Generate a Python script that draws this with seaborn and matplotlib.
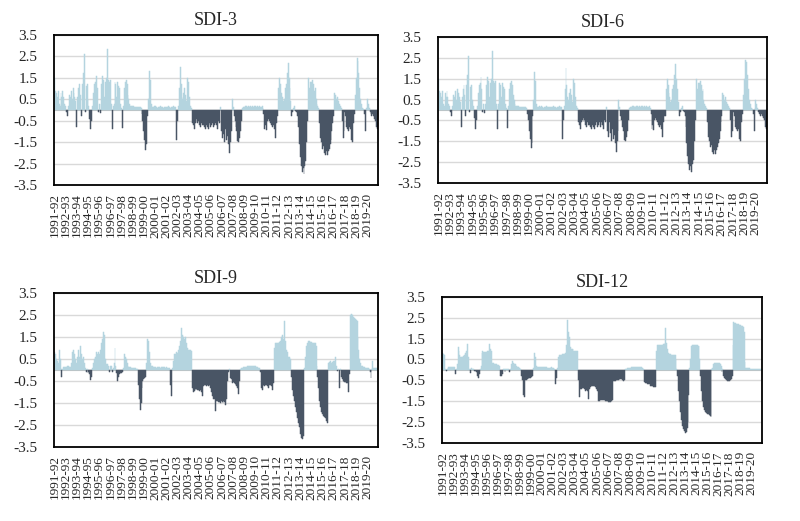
import matplotlib
matplotlib.use("Agg")
import matplotlib.pyplot as plt
import seaborn as sns
import numpy as np
import pandas as pd

# water years shown on the x axis (one label per 12 months)
years = [f"{y}-{str(y + 1)[-2:]}" for y in range(1991, 2020)]

# monthly SDI values, one row per water year (Oct..Sep)
sdi_3 = [
    1.5, 0.9, 0.8, 0.6, 0.9, 0.3, 0.2, 0.8, 0.6, 0.9, 0.6, 0.3,
    0.2, -0.1, -0.3, 0.2, 0.7, 0.6, 0.9, 0.5, 1.0, 0.8, 0.6, 0.4,
    -0.8, 0.6, 1.0, 1.2, 0.7, -0.3, 1.2, 1.7, 2.6, -0.1, 1.1, 1.2,
    0.5, 0.2, -0.4, -0.9, -0.5, 0.2, 0.8, 1.2, 1.3, 1.6, 1.0, -0.1,
    0.3, -0.15, 0.3, 1.2, 1.6, 1.4, 0.6, 1.3, 1.5, 2.85, 1.4, 1.3,
    1.4, 0.3, -0.9, 0.2, 0.3, 1.3, 1.2, 0.6, 1.3, 1.1, 1.0, 0.3,
    0.1, -0.85, 0.2, 1.0, 1.3, 1.4, 1.2, 0.7, 0.5, 0.3, 0.2, 0.2,
    0.2, 0.2, 0.15, 0.15, 0.15, 0.15, 0.15, 0.15, 0.15, 0.1, -0.2, -0.5,
    -1.0, -1.4, -1.85, -1.6, -0.3, 0.5, 1.8, 1.4, 0.3, 0.15, 0.15, 0.2,
    0.15, 0.2, 0.15, 0.1, 0.15, 0.15, 0.2, 0.15, 0.15, 0.1, 0.15, 0.15,
    0.15, 0.15, 0.2, 0.15, 0.15, 0.1, 0.15, 0.15, 0.2, 0.15, 0.15, -1.4,
    -0.5, 0.2, 1.0, 2.0, 1.2, 0.6, 0.5, 0.8, 1.0, 0.7, 0.4, 1.5,
    1.3, 0.6, 0.2, 0.1, -0.6, -0.7, -0.9, -0.6, -0.5, -0.4, -0.6, -0.5,
    -0.7, -0.8, -0.6, -0.7, -0.7, -0.8, -0.9, -0.7, -0.8, -0.9, -0.7, -0.6,
    -0.8, -0.7, -0.6, -0.8, -0.7, -0.6, -0.7, -0.9, -0.5, -0.6, 0.15, -1.0,
    -1.3, -0.6, -1.1, -1.5, -0.9, -1.4, -1.2, -1.6, -2.0, -1.5, -1.0, 0.5,
    0.15, -0.3, -0.5, -0.8, -1.0, -1.45, -1.5, -1.3, -1.0, -0.5, 0.1, 0.15,
    0.15, 0.2, 0.2, 0.15, 0.2, 0.15, 0.2, 0.2, 0.15, 0.2, 0.15, 0.2,
    0.2, 0.15, 0.2, 0.15, 0.2, 0.15, 0.15, 0.2, 0.1, -0.2, -0.9, -0.7,
    -0.95, -0.5, -0.4, -0.5, -0.6, -0.7, -0.8, -0.7, -0.9, -1.3, -0.6, -0.3,
    -0.3, 1.0, 1.5, 1.2, 0.8, 0.6, 0.4, 0.5, 1.0, 1.2, 1.7, 2.2,
    1.5, 1.0, 0.4, -0.3, -0.1, 0.1, 0.2, -0.05, -0.1, -0.3, -0.8, -1.6,
    -2.2, -2.6, -2.9, -2.7, -3.0, -2.6, -2.4, -1.5, -0.5, 1.5, 1.0, 1.3,
    1.3, 1.4, 1.2, 0.9, 1.0, 0.5, 0.3, 0.2, 0.1, -0.6, -1.3, -1.5,
    -1.8, -1.7, -2.0, -2.1, -1.9, -2.1, -1.9, -1.8, -1.6, -1.4, -1.0, -0.6,
    -0.3, 0.8, 0.7, 0.5, 0.6, 0.4, 0.3, 0.2, 0.1, -0.5, -1.3, -1.0,
    -0.1, -0.3, -0.8, -0.9, -1.0, -0.8, -0.9, -1.4, -1.5, -0.6, -0.2, 0.7,
    1.5, 2.4, 2.3, 1.7, 1.0, 0.5, 0.3, 0.1, 0.05, -0.2, -1.0, 0.1,
    0.5, 0.3, 0.1, -0.1, -0.2, -0.3, -0.2, -0.3, -0.4, -0.5, -0.8, -0.9,
]

# the SDI-6 panel reads the same as SDI-3 in the figure
sdi_6 = list(sdi_3)

sdi_9 = [
    0.8, 0.7, 0.5, 0.4, 0.3, 0.9, 0.5, 0.1, -0.3, 0.05, 0.15, 0.15,
    0.15, 0.15, 0.2, 0.2, 0.15, 0.15, 0.3, 0.8, 0.9, 0.6, 0.7, 0.5,
    0.3, 0.6, 0.9, 0.6, 1.1, 0.7, 0.5, 0.6, 0.3, 0.1, -0.1, 0.05,
    -0.15, -0.1, -0.2, -0.45, -0.3, 0.1, 0.3, 0.5, 0.6, 0.8, 0.7, 0.8,
    0.7, 0.9, 0.8, 1.2, 1.4, 1.7, 1.6, 0.5, 0.25, 0.25, 0.2, -0.1,
    0.2, 0.2, -0.1, 0.1, 0.3, 1.0, 0.2, -0.15, -0.5, -0.3, -0.2, -0.15,
    -0.15, -0.1, 0.1, 0.7, 0.6, 0.5, 0.3, 0.2, 0.15, 0.15, 0.15, 0.1,
    0.1, 0.1, 0.1, 0.1, 0.05, 0.05, -0.7, -1.3, -1.8, -1.5, -0.8, -0.5,
    -0.4, -0.35, -0.3, 0.3, 1.4, 1.3, 0.8, 0.3, 0.2, 0.2, 0.15, 0.15,
    0.15, 0.15, 0.1, 0.15, 0.15, 0.15, 0.1, 0.15, 0.15, 0.15, 0.15, 0.1,
    0.15, 0.1, 0.1, 0.1, 0.1, -0.7, -1.2, 0.1, 0.4, 0.7, 0.7, 0.8,
    0.75, 0.9, 1.1, 1.3, 1.9, 1.3, 1.6, 1.5, 1.4, 1.5, 1.2, 1.0,
    0.9, 0.9, 0.9, 0.85, -0.8, -1.0, -0.95, -0.85, -0.9, -0.85, -0.9, -0.9,
    -0.95, -0.9, -1.0, -1.2, -0.75, -0.7, -0.7, -0.75, -0.7, -0.75, -0.75, -0.7,
    -0.8, -1.0, -1.2, -1.3, -1.3, -1.85, -1.4, -1.4, -1.45, -1.45, -1.5, -1.4,
    -1.45, -1.5, -1.4, -1.45, -1.6, -1.3, -0.5, -0.1, 0.05, -0.35, -0.4, -0.6,
    -0.55, -0.6, -0.65, -0.7, -0.75, -0.8, -1.1, -0.5, 0.05, 0.1, 0.1, 0.15,
    0.15, 0.15, 0.15, 0.2, 0.2, 0.2, 0.2, 0.2, 0.2, 0.2, 0.2, 0.2,
    0.2, 0.15, 0.15, 0.1, 0.1, -0.1, -0.8, -0.9, -0.75, -0.7, -0.75, -0.7,
    -0.7, -0.75, -0.8, -0.7, -0.7, -0.75, -0.9, -0.6, 1.0, 1.2, 1.2, 1.2,
    1.2, 1.2, 1.25, 1.3, 1.5, 1.6, 1.4, 2.2, 1.3, 0.9, 0.8, 0.6,
    0.6, 0.5, 0.5, -0.3, -0.9, -1.2, -1.4, -1.7, -1.9, -2.2, -2.4, -2.6,
    -2.9, -3.1, -3.15, -3.0, 0.05, 0.1, 0.6, 1.1, 1.2, 1.3, 1.3, 1.25,
    1.25, 1.2, 1.2, 1.2, 1.2, 1.1, 0.2, -0.3, -0.8, -1.4, -1.7, -1.9,
    -2.0, -2.1, -2.15, -2.2, -2.3, -2.4, 0.3, 0.35, 0.4, 0.3, 0.3, 0.35,
    0.4, 0.4, 0.6, 0.2, -0.05, 0.05, -0.8, 0.05, -0.3, -0.4, -0.5, -0.55,
    -0.55, -0.55, -0.6, -0.6, -1.0, -0.2, 2.5, 2.55, 2.5, 2.4, 2.35, 2.3,
    2.25, 2.2, 1.5, 0.9, 0.5, 0.3, 0.2, 0.2, 0.15, 0.15, 0.1, 0.1,
    0.1, 0.1, 0.05, -0.1, -0.35, 0.05, 0.4, 0.1, 0.1, 0.1, 0.1, 0.1,
]

sdi_12 = [
    0.8, 0.75, 0.7, 0.05, -0.05, 0.05, 0.1, 0.15, 0.15, 0.15, 0.15, 0.15,
    0.15, 0.15, -0.2, 0.05, 0.3, 1.1, 0.9, 0.7, 0.6, 0.6, 0.6, 0.65,
    0.7, 0.8, 0.9, 1.25, 0.6, 0.05, -0.15, 0.1, 0.1, 0.05, 0.02, -0.05,
    -0.05, -0.1, -0.3, -0.4, -0.2, 0.05, 0.2, 0.8, 0.9, 0.85, 0.85, 0.85,
    0.85, 0.9, 0.9, 1.25, 1.0, 0.9, 0.35, 0.35, 0.35, 0.3, 0.3, 0.3,
    0.25, 0.25, 0.2, -0.3, -0.3, -0.2, 0.05, 0.05, -0.1, 0.05, 0.05, 0.05,
    0.05, -0.1, 0.05, 0.3, 0.45, 0.35, 0.3, 0.3, 0.2, 0.2, 0.15, 0.15,
    0.1, 0.05, -0.3, -0.5, -1.2, -1.3, -0.5, -0.5, -0.45, -0.45, -0.4, -0.4,
    -0.4, -0.35, -0.3, 0.1, 0.8, 0.6, 0.2, 0.15, 0.15, 0.15, 0.15, 0.15,
    0.15, 0.15, 0.15, 0.15, 0.15, 0.15, 0.1, 0.1, 0.1, 0.1, 0.15, 0.15,
    0.1, 0.1, 0.05, -0.7, -0.4, 0.1, 0.6, 0.7, 0.7, 0.7, 0.7, 0.75,
    0.75, 0.75, 0.8, 1.2, 2.4, 1.8, 1.6, 1.1, 1.0, 1.0, 1.0, 0.9,
    0.9, 0.9, 0.9, 0.9, -0.5, -1.3, -0.9, -0.9, -0.85, -0.85, -0.9, -0.9,
    -1.0, -0.95, -1.0, -1.4, -0.9, -0.8, -0.75, -0.75, -0.75, -0.75, -0.8, -0.8,
    -0.9, -1.0, -1.5, -1.5, -1.45, -1.45, -1.45, -1.45, -1.45, -1.5, -1.5, -1.5,
    -1.5, -1.55, -1.55, -1.55, -1.5, -1.45, -0.55, -0.55, -0.55, -0.5, -0.5, -0.5,
    -0.5, -0.45, -0.45, -0.45, -0.5, -0.55, -0.5, 0.05, 0.05, 0.1, 0.1, 0.1,
    0.1, 0.1, 0.15, 0.15, 0.15, 0.15, 0.15, 0.15, 0.15, 0.15, 0.15, 0.15,
    0.15, 0.1, 0.1, 0.05, -0.6, -0.65, -0.65, -0.7, -0.7, -0.7, -0.75, -0.75,
    -0.75, -0.75, -0.8, -0.8, -0.8, 0.9, 1.2, 1.2, 1.2, 1.2, 1.2, 1.2,
    1.25, 1.25, 1.3, 2.0, 1.3, 1.0, 0.8, 0.75, 0.75, 0.7, 0.7, 0.7,
    0.7, 0.7, 0.5, 0.05, -0.3, -1.0, -1.5, -2.0, -2.4, -2.7, -2.85, -2.95,
    -3.05, -3.0, -2.8, -2.5, -1.2, 0.1, 0.5, 1.15, 1.2, 1.2, 1.2, 1.2,
    1.2, 1.2, 1.15, 1.15, 0.5, -0.3, -1.0, -1.5, -1.8, -1.9, -2.0, -2.05,
    -2.1, -2.1, -2.15, -2.2, -2.25, 0.05, 0.1, 0.3, 0.35, 0.35, 0.35, 0.35,
    0.35, 0.35, 0.3, 0.2, -0.1, 0.05, -0.3, -0.4, -0.45, -0.5, -0.55, -0.55,
    -0.55, -0.5, -0.45, -0.3, 1.2, 2.3, 2.25, 2.25, 2.2, 2.2, 2.2, 2.15,
    2.15, 2.1, 2.1, 2.05, 1.8, 0.4, 0.1, 0.1, 0.1, 0.1, 0.1, 0.05,
    0.05, 0.05, 0.05, 0.05, 0.05, 0.05, 0.05, 0.05, 0.05, 0.05, 0.05, 0.05,
]

titles = ["SDI-3", "SDI-6", "SDI-9", "SDI-12"]
series = [sdi_3, sdi_6, sdi_9, sdi_12]

pos_color = "#add8e6"
neg_color = "#44546a"

sns.set_style("white")
plt.rcParams["font.family"] = ["Liberation Serif", "DejaVu Serif"]
plt.rcParams["axes.unicode_minus"] = False

fig = plt.figure(figsize=(8, 5.21), dpi=100)
# axes boxes [left, bottom, width, height] in figure fractions
boxes = [
    [0.0675, 0.645, 0.405, 0.288],
    [0.5475, 0.649, 0.411, 0.280],
    [0.0675, 0.142, 0.405, 0.296],
    [0.5525, 0.150, 0.400, 0.280],
]

for title, vals, box in zip(titles, series, boxes):
    assert len(vals) == 12 * len(years)
    ax = fig.add_axes(box)
    df = pd.DataFrame({"month": np.arange(len(vals)), "value": vals})
    df["sign"] = np.where(df["value"] >= 0, "pos", "neg")

    ax.axhline(0, color="#bfbfbf", lw=0.8, zorder=1)
    sns.barplot(data=df, x="month", y="value", hue="sign",
                palette={"pos": pos_color, "neg": neg_color},
                dodge=False, width=1.0, errorbar=None, legend=False,
                ax=ax, zorder=2)
    # thin edge in the fill colour so sub-pixel bars stay solid
    for p in ax.patches:
        p.set_edgecolor(p.get_facecolor())
        p.set_linewidth(0.35)

    ax.set_ylim(-3.5, 3.5)
    yt = np.arange(-3.5, 3.51, 1.0)
    ax.set_yticks(yt)
    ax.set_yticklabels([f"{v:.1f}" for v in yt], fontsize=11)
    ax.yaxis.grid(True, color="#d9d9d9", lw=1.0)
    ax.set_axisbelow(True)

    ax.set_xlim(-0.5, len(vals) - 0.5)
    ax.set_xticks(np.arange(0, len(vals), 12))
    ax.set_xticklabels(years, rotation=90, fontsize=9.5)
    ax.tick_params(axis="both", length=0)
    ax.tick_params(axis="y", pad=12)
    ax.tick_params(axis="x", pad=6)
    ax.set_xlabel("")
    ax.set_ylabel("")
    ax.set_title(title, fontsize=13, pad=7)

    for s in ax.spines.values():
        s.set_visible(True)
        s.set_color("black")
        s.set_linewidth(1.3)

fig.savefig("out.png", dpi=100)
